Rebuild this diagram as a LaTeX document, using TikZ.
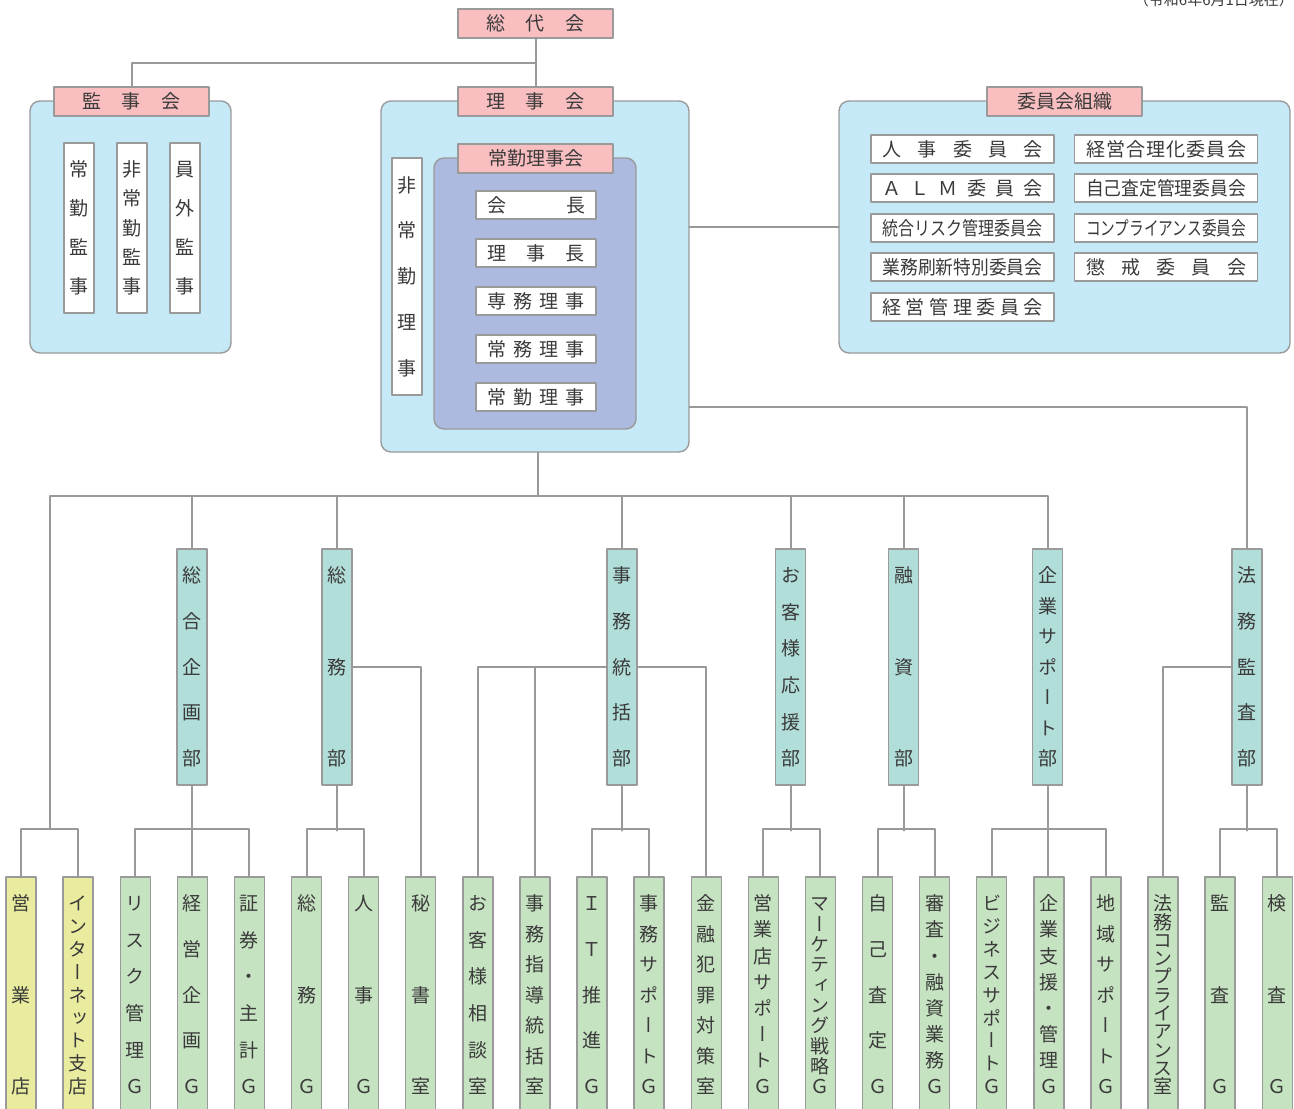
\documentclass[tikz,border=0pt]{standalone}
\usepackage{fontspec}
\usepackage{graphicx}
\usetikzlibrary{calc}
\newfontfamily\jp{Noto Sans CJK JP}
\newfontfamily\jpv[RawFeature=+vert]{Noto Sans CJK JP}
\definecolor{pink0}{HTML}{F8BEC0}
\definecolor{sky}{HTML}{C6E9F8}
\definecolor{peri}{HTML}{ABBADE}
\definecolor{teal0}{HTML}{B2DEDA}
\definecolor{grn}{HTML}{C6E3C1}
\definecolor{yel}{HTML}{E9EC9E}
\definecolor{edge}{HTML}{9A9A9A}
\definecolor{lin}{HTML}{999999}
\definecolor{txt}{HTML}{3A3A3A}
\makeatletter
% characters one under another, spread over #1
\newcommand\tate[2]{\vbox to #1{\offinterlineskip\let\tt@s\relax
  \@for\tt@c:=#2\do{\tt@s\hbox to 1.1em{\vrule height .88em depth .12em width 0pt\hss\tt@c\hss}\let\tt@s\vss}\kern0pt}}
% characters side by side, spread (or squeezed) to #1
\newcommand\yoko[2]{\setbox0\hbox{\@for\yk@c:=#2\do{\yk@c}}%
  \ifdim\wd0>#1\relax\resizebox{#1}{\height}{\box0}%
  \else\hbox to #1{\let\yk@s\relax\@for\yk@c:=#2\do{\yk@s\yk@c\let\yk@s\hfil}}\fi}
\makeatother
\begin{document}
\begin{tikzpicture}[x=0.5pt,y=-0.5pt,line cap=round,line join=round,text=txt,font=\jp\fontsize{9.5}{11}\selectfont]
\useasboundingbox (0,0) rectangle (1294,1108);
\tikzset{ln/.style={draw=lin,line width=1pt},
	bx/.style={draw=edge,line width=0.7pt,inner sep=0pt},
	pk/.style={bx,fill=pink0,minimum width=77.5pt,minimum height=14.5pt},
	pan/.style={bx,fill=sky,rounded corners=5pt},
	wb/.style={bx,fill=white,minimum height=14pt},
	tt/.style={bx,minimum width=15pt,minimum height=118pt,font=\jpv\fontsize{9.5}{11}\selectfont}}
\def\gx{57.1}\def\h{47}
\node[anchor=base east,font=\jp\fontsize{7.5}{8}\selectfont] (date) at (1301,5) {（令和6年6月1日現在）};
% panels
\node[pan,minimum width=100.5pt,minimum height=126pt] (kpanel) at (130.5,227) {};
\node[pan,minimum width=154pt,minimum height=175.5pt] (rpanel) at (535,276.5) {};
\node[pan,fill=peri,minimum width=101pt,minimum height=135.5pt] (jpanel) at (535,293.5) {};
\node[pan,minimum width=225.5pt,minimum height=126pt] (ipanel) at (1064.5,227) {};
% titles
\node[pk] (sodai) at (535.5,23.5) {\yoko{49pt}{総,代,会}};
\node[pk] (kanjikai) at (131.5,101.5) {\yoko{49pt}{監,事,会}};
\node[pk] (rijikai) at (535.5,101.5) {\yoko{49pt}{理,事,会}};
\node[pk] (joukin) at (535.5,158.5) {常勤理事会};
\node[pk] (iinkai) at (1064.5,101.5) {委員会組織};
% board members
\foreach \n/\x/\t in {jokan/79/{常,勤,監,事},hikan/132/{非,常,勤,監,事},ingai/185/{員,外,監,事}}
	\node[tt,fill=white,minimum height=85pt] (\n) at (\x,228) {\tate{68pt}{\t}};
\node[tt,fill=white,minimum height=118.5pt] (hiri) at (407,276.5) {\tate{101pt}{非,常,勤,理,事}};
\foreach \n/\y/\t in {kaicho/205/{会,長},richo/253/{理,事,長},senmu/301/{専,務,理,事},jomu/349/{常,務,理,事},jokin/397/{常,勤,理,事}}
	\node[wb,minimum width=60pt] (\n) at (536,\y) {\yoko{49pt}{\t}};
% committees
\foreach \n/\x/\y/\t in {jinji/962.5/149/{人,事,委,員,会},alm/962.5/188/{Ａ,Ｌ,Ｍ,委,員,会},togo/962.5/228/{統,合,リ,ス,ク,管,理,委,員,会},
	sasshin/962.5/267/{業,務,刷,新,特,別,委,員,会},keikan/962.5/307/{経,営,管,理,委,員,会},gori/1166/149/{経,営,合,理,化,委,員,会},
	satei/1166/188/{自,己,査,定,管,理,委,員,会},comp/1166/228/{コ,ン,プ,ラ,イ,ア,ン,ス,委,員,会},choka/1166/267/{懲,戒,委,員,会}}
	\node[wb,minimum width=91.5pt] (\n) at (\x,\y) {\yoko{80pt}{\t}};
% departments
\foreach \n/\x/\t in {sogo/192/{総,合,企,画,部},somu/337/{総,務,部},jimu/622/{事,務,統,括,部},okyaku/790.5/{お,客,様,応,援,部},
	yushi/903.5/{融,資,部},kigyo/1047.5/{企,業,サ,ポ,ー,ト,部},homu/1247/{法,務,監,査,部}}
	\node[tt,fill=teal0] (\n) at (\x,667) {\tate{101pt}{\t}};
% groups
\foreach \t [count=\i] in {{営,業,店},{イ,ン,タ,ー,ネ,ッ,ト,支,店},{リ,ス,ク,管,理,Ｇ},{経,営,企,画,Ｇ},{証,券,・,主,計,Ｇ},{総,務,Ｇ},{人,事,Ｇ},{秘,書,室},
	{お,客,様,相,談,室},{事,務,指,導,統,括,室},{Ｉ,Ｔ,推,進,Ｇ},{事,務,サ,ポ,ー,ト,Ｇ},{金,融,犯,罪,対,策,室},{営,業,店,サ,ポ,ー,ト,Ｇ},
	{マ,ー,ケ,テ,ィ,ン,グ,戦,略,Ｇ},{自,己,査,定,Ｇ},{審,査,・,融,資,業,務,Ｇ},{ビ,ジ,ネ,ス,サ,ポ,ー,ト,Ｇ},{企,業,支,援,・,管,理,Ｇ},
	{地,域,サ,ポ,ー,ト,Ｇ},{法,務,コ,ン,プ,ラ,イ,ア,ン,ス,室},{監,査,Ｇ},{検,査,Ｇ}}{
	\ifnum\i<3 \def\c{yel}\else\def\c{grn}\fi
	\node[tt,fill=\c] (g\i) at ({21+\gx*(\i-1)},995) {\tate{101pt}{\t}};}
% lines
\draw[ln] (sodai) -- (rijikai);
\draw[ln] (kanjikai.north) |- ($(sodai.south)!.5!(rijikai.north)$);
\draw[ln] (rpanel.east |- ipanel.west) -- (ipanel.west);
\draw[ln] (rpanel.east |- 0,407) -| (homu.north);
\coordinate (bus) at ([xshift=1.5pt]rpanel.south |- 0,496);
\draw[ln] (bus |- rpanel.south) -- (bus);
\draw[ln] ($(g1.north)!.5!(g2.north)$) ++(0,-\h) |- (bus) -| (kigyo.north);
\foreach \n in {sogo,somu,jimu,okyaku,yushi} \draw[ln] (\n.north) -- (\n.north |- bus);
\foreach \n in {sogo,somu,jimu,okyaku,yushi,kigyo,homu} \draw[ln] (\n.south) -- ++(0,45);
\foreach \a/\b in {1/2,3/5,6/7,11/12,14/15,16/17,18/20,22/23} \draw[ln] (g\a.north) -- ++(0,-\h) -| (g\b.north);
\draw[ln] (sogo.south) -- (sogo.south |- g4.north);
\draw[ln] (kigyo.south) -- (kigyo.south |- g19.north);
\draw[ln] (somu.east) -| (g8.north);
\draw[ln] (jimu.west) -| (g9.north);
\draw[ln] (g10.north) -- (g10.north |- jimu.west);
\draw[ln] (jimu.east) -| (g13.north);
\draw[ln] (homu.west) -| (g21.north);
\end{tikzpicture}
\end{document}
